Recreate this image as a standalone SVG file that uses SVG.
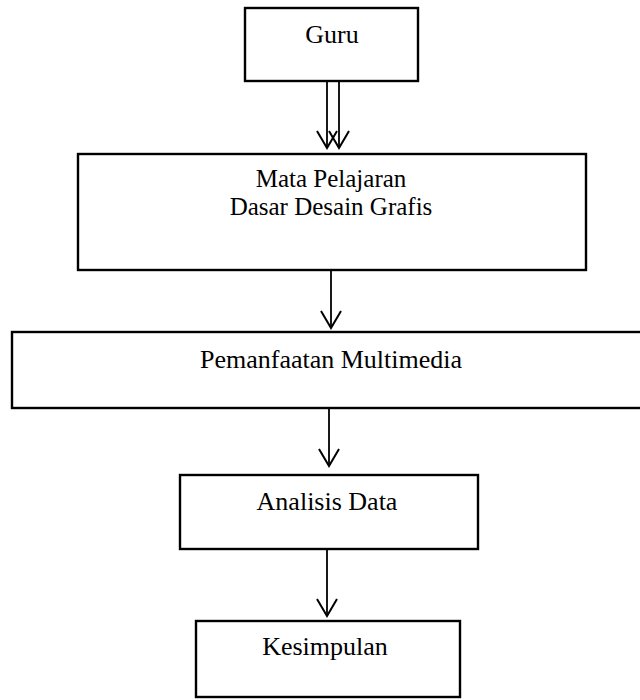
<svg xmlns="http://www.w3.org/2000/svg" width="640" height="700" viewBox="0 0 640 700">
  <defs>
    <style>
      .box { fill: #ffffff; stroke: #000000; stroke-width: 2.4; }
      .lbl { font-family: "Liberation Serif", "Times New Roman", serif; font-size: 26px; fill: #000000; text-anchor: middle; }
      .lbl2 { font-size: 25px; }
      .conn { stroke: #000000; stroke-width: 1.8; fill: none; }
    </style>
    <marker id="vhead" markerUnits="userSpaceOnUse" markerWidth="24" markerHeight="24" viewBox="-20 -12 22 24" refX="0" refY="0" orient="auto" overflow="visible">
      <path d="M-17,-10 L0,0 L-17,10" fill="none" stroke="#000000" stroke-width="2"/>
    </marker>
  </defs>
  <rect width="640" height="700" fill="#ffffff"/>

  <g id="guru">
    <rect class="box" x="245" y="8" width="173" height="73"/>
    <text class="lbl" x="332" y="43">Guru</text>
  </g>

  <g id="mata-pelajaran">
    <rect class="box" x="78" y="154" width="508" height="116"/>
    <text class="lbl lbl2" x="331" y="187">Mata Pelajaran</text>
    <text class="lbl lbl2" x="331" y="215">Dasar Desain Grafis</text>
  </g>

  <g id="pemanfaatan">
    <rect class="box" x="12" y="332" width="640" height="76"/>
    <text class="lbl" x="331" y="368">Pemanfaatan Multimedia</text>
  </g>

  <g id="analisis">
    <rect class="box" x="180" y="475" width="298" height="74"/>
    <text class="lbl" x="327" y="510">Analisis Data</text>
  </g>

  <g id="kesimpulan">
    <rect class="box" x="196" y="621" width="264" height="76"/>
    <text class="lbl" x="325" y="655">Kesimpulan</text>
  </g>

  <g id="connectors">
    <line class="conn" x1="327" y1="82" x2="327" y2="148" marker-end="url(#vhead)"/>
    <line class="conn" x1="339" y1="82" x2="339" y2="148" marker-end="url(#vhead)"/>
    <line class="conn" x1="331" y1="271" x2="331" y2="328" marker-end="url(#vhead)"/>
    <line class="conn" x1="329" y1="409" x2="329" y2="466" marker-end="url(#vhead)"/>
    <line class="conn" x1="327" y1="550" x2="327" y2="616" marker-end="url(#vhead)"/>
  </g>
</svg>
